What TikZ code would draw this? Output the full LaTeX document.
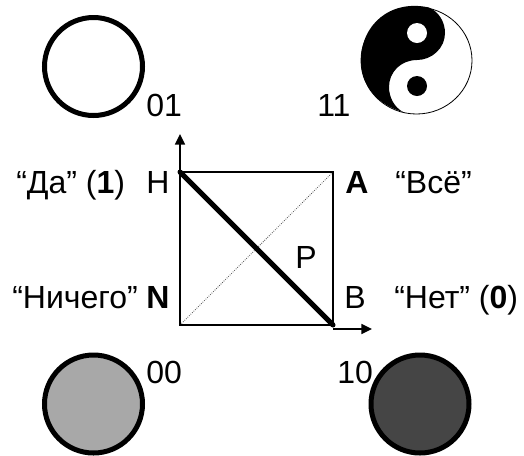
\documentclass[tikz,border=0pt]{standalone}
\usepackage{fontspec}
\setmainfont{Liberation Sans}
\usetikzlibrary{arrows.meta}
\tikzset{
  x=0.75pt,y=-0.75pt,
  lbl/.style={inner sep=0pt,anchor=base west,font=\fontsize{24}{28}\selectfont},
  disc/.style={circle,draw=black,line width=3.75pt,minimum size=73.5pt,inner sep=0pt},
  edge/.style={line width=1.6pt,line cap=rect},
  axis/.style={line width=1.2pt,-{Triangle[length=8pt,width=7.5pt]}},
  heavy/.style={line width=3.75pt,line cap=round},
  faint/.style={line width=0.6pt,densely dotted,black!65},
}
\begin{document}
\begin{tikzpicture}
\useasboundingbox (0,0) rectangle (524,455);
% corners of the square
\coordinate (H) at (180,172);
\coordinate (A) at (333,172);
\coordinate (N) at (180,325);
\coordinate (B) at (333,325);
\coordinate (yend) at (180,134);
\coordinate (xstart) at (333,329);
\coordinate (xend) at (372,329);
% square and diagonals
\draw[faint] (N) -- (A);
\draw[edge] (H) -- (A) -- (B) -- (N) -- (H);
\draw[heavy] (H) -- (B);
\draw[axis] (N) -- (yend);
\draw[axis] (xstart) -- (xend);
% discs
\node[disc,fill=white] (d01) at (93.5,66.5) {};
\node[disc,fill=black!34] (d00) at (93.5,404) {};
\node[disc,fill=black!73] (d10) at (420,404) {};
% yin-yang
\draw[line width=0.6pt,fill=white] (416.5,60.5) ellipse [x radius=55.5,y radius=53.5];
\fill[black] (429,7.5)
  .. controls (390,-1) and (361,25) .. (361,60.5)
  .. controls (361,86) and (378,105) .. (403,112)
  .. controls (394,107) and (389,97) .. (389,87)
  .. controls (389,72) and (401,60) .. (417,60)
  .. controls (432,60) and (445,48) .. (445,33)
  .. controls (445,22) and (439,12) .. (429,7.5) -- cycle;
\fill[white] (417,33) circle [radius=10];
\fill[black] (417,86) circle [radius=10];
% labels
\node[lbl] (l01) at (146,116) {01};
\node[lbl] (l11) at (317,116) {11};
\node[lbl] (l00) at (146,383) {00};
\node[lbl] (l10) at (337,383) {10};
\node[lbl] (lda) at (16,193) {“Да” (\textbf{1})};
\node[lbl] (lH) at (146,193) {H};
\node[lbl] (lA) at (345,193) {\textbf{A}};
\node[lbl] (lvse) at (395,193) {“Всё”};
\node[lbl] (lnich) at (12,308) {“Ничего”};
\node[lbl] (lN) at (146,308) {\textbf{N}};
\node[lbl] (lP) at (295,268) {P};
\node[lbl] (lB) at (344,308) {B};
\node[lbl] (lnet) at (394,308) {“Нет” (\textbf{0})};
\end{tikzpicture}
\end{document}
